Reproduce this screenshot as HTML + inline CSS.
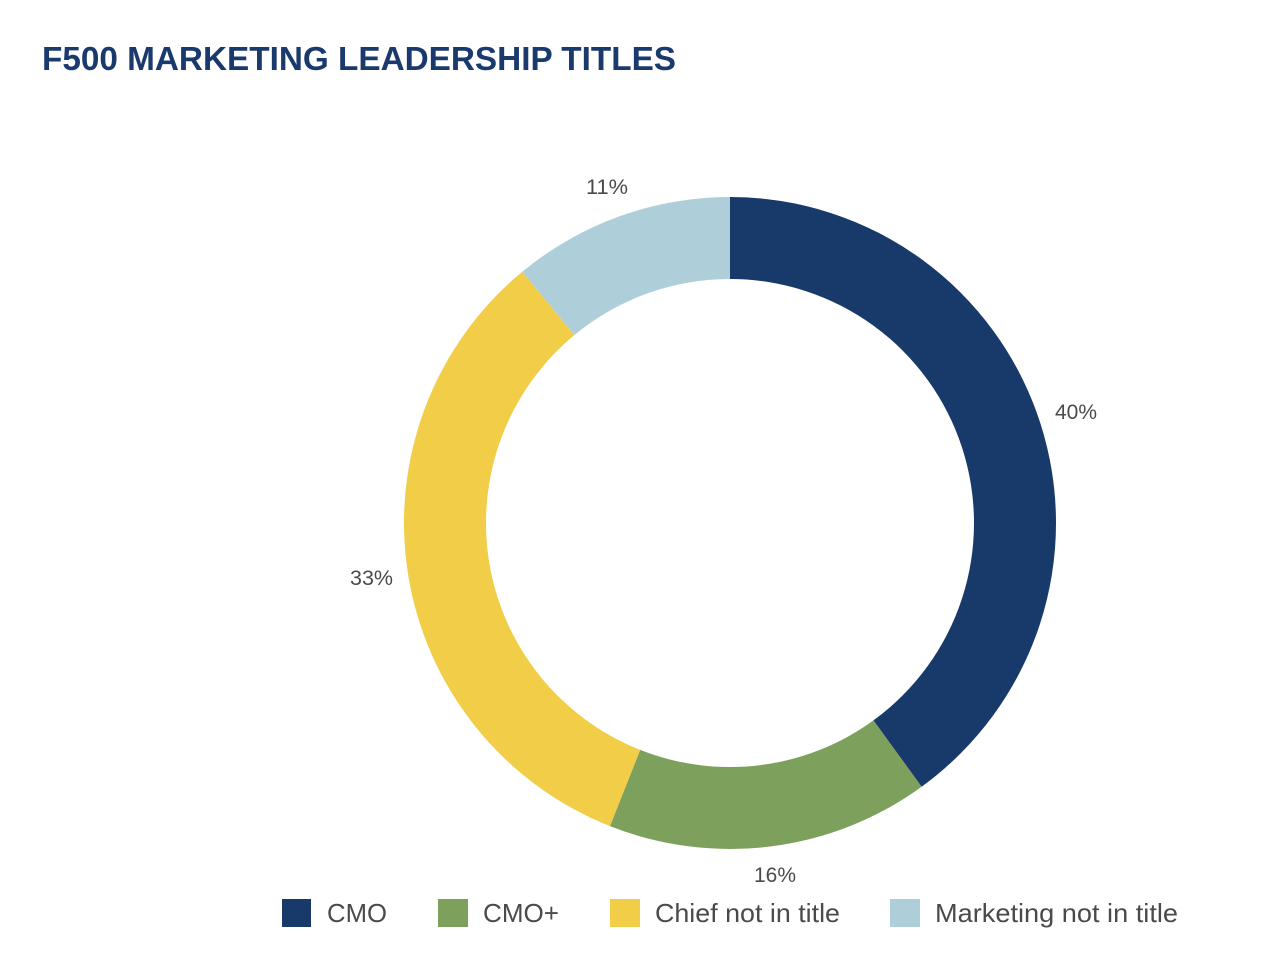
<!DOCTYPE html>
<html>
<head>
<meta charset="utf-8">
<style>
  html, body { margin: 0; padding: 0; background: #ffffff; }
  body { width: 1286px; height: 976px; overflow: hidden; }
  svg { display: block; }
</style>
</head>
<body>
<svg width="1286" height="976" viewBox="0 0 1286 976" xmlns="http://www.w3.org/2000/svg">
  <rect width="1286" height="976" fill="#ffffff"/>
  <text x="42" y="70" font-family="Liberation Sans, sans-serif" font-weight="bold" font-size="33" fill="#1a3a6e" textLength="634" lengthAdjust="spacingAndGlyphs">F500 MARKETING LEADERSHIP TITLES</text>

  <!-- Donut -->
  <path d="M730,197 A326,326 0 0 1 921.62,786.74 L873.42,720.40 A244,244 0 0 0 730,279 Z" fill="#173a6b"/>
  <path d="M921.62,786.74 A326,326 0 0 1 609.99,826.11 L640.18,749.87 A244,244 0 0 0 873.42,720.40 Z" fill="#7da05c"/>
  <path d="M609.99,826.11 A326,326 0 0 1 522.20,271.81 L574.47,335.00 A244,244 0 0 0 640.18,749.87 Z" fill="#f2cd48"/>
  <path d="M522.20,271.81 A326,326 0 0 1 730,197 L730,279 A244,244 0 0 0 574.47,335.00 Z" fill="#aecfd9"/>

  <!-- Data labels -->
  <g font-family="Liberation Sans, sans-serif" font-size="21" fill="#4a4a4a">
    <text x="1055" y="419" textLength="42" lengthAdjust="spacingAndGlyphs">40%</text>
    <text x="754" y="882" textLength="42" lengthAdjust="spacingAndGlyphs">16%</text>
    <text x="350" y="585" textLength="43" lengthAdjust="spacingAndGlyphs">33%</text>
    <text x="586" y="194" textLength="42" lengthAdjust="spacingAndGlyphs">11%</text>
  </g>

  <!-- Legend -->
  <rect x="282" y="899" width="29" height="28" fill="#173a6b"/>
  <rect x="438" y="899" width="30" height="28" fill="#7da05c"/>
  <rect x="610" y="899" width="30" height="28" fill="#f2cd48"/>
  <rect x="890" y="899" width="30" height="28" fill="#aecfd9"/>
  <g font-family="Liberation Sans, sans-serif" font-size="26" fill="#4a4a4a">
    <text x="327" y="922" textLength="60" lengthAdjust="spacingAndGlyphs">CMO</text>
    <text x="483" y="922" textLength="76" lengthAdjust="spacingAndGlyphs">CMO+</text>
    <text x="655" y="922" textLength="185" lengthAdjust="spacingAndGlyphs">Chief not in title</text>
    <text x="935" y="922" textLength="243" lengthAdjust="spacingAndGlyphs">Marketing not in title</text>
  </g>
</svg>
</body>
</html>
